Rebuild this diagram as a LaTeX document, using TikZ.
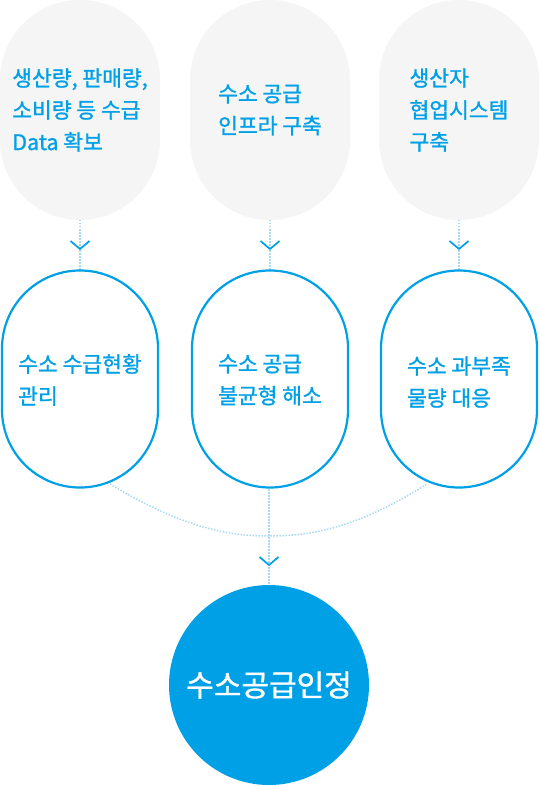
\documentclass[tikz,border=0pt]{standalone}
\usepackage{fontspec}
\setmainfont{Noto Sans CJK KR}
\newfontfamily\kr[FakeBold=1.2]{Noto Sans CJK KR}
\definecolor{mainblue}{HTML}{00A0E6}
\definecolor{pillgray}{HTML}{F5F5F5}
\definecolor{dotblue}{HTML}{A9DAF5}
\tikzset{
  graypill/.style={rectangle, fill=pillgray, minimum width=160pt, minimum height=220pt, rounded corners=79.9pt, inner sep=0pt},
  bluepill/.style={rectangle, draw=mainblue, line width=2.2pt, fill=white, minimum width=156pt, minimum height=217pt, rounded corners=77.9pt, inner sep=0pt},
  pilltext/.style={text=mainblue, align=left, font=\kr\fontsize{21.5pt}{32pt}\selectfont},
  dotline/.style={dotblue, line width=1.5pt, dash pattern=on 1.5pt off 1.5pt},
  chev/.style={mainblue, line width=1.7pt},
}
\begin{document}
\begin{tikzpicture}[x=1pt,y=-1pt]
\useasboundingbox (0,0) rectangle (539,786);
% connectors first (behind)
\coordinate (d1t) at (80,220); \coordinate (d1b) at (80,270);
\coordinate (d2t) at (270,220); \coordinate (d2b) at (270,270);
\coordinate (d3t) at (459,220); \coordinate (d3b) at (459,270);
\draw[dotline] (d1t) -- (d1b);
\draw[dotline] (d2t) -- (d2b);
\draw[dotline] (d3t) -- (d3b);
\coordinate (al) at (110,484);
\coordinate (ar) at (427,484);
\coordinate (am) at (269,536);
\draw[dotline] (al) .. controls (180,526) and (225,536) .. (am) .. controls (315,536) and (360,526) .. (ar);
\coordinate (vt) at (269,489); \coordinate (vb) at (269,586);
\draw[dotline] (vt) -- (vb);
% top gray pills
\node[graypill] (g1) at (80,110) {};
\node[graypill] (g2) at (270,110) {};
\node[graypill] (g3) at (459,110) {};
\node[pilltext] (t1) at (80,110) {생산량, 판매량,\\소비량 등 수급\\Data 확보};
\node[pilltext] (t2) at (270,110) {수소 공급\\인프라 구축};
\node[pilltext] (t3) at (459,110) {생산자\\협업시스템\\구축};
% chevrons
\foreach \cx/\cy [count=\i] in {80/241, 270/241, 459/241, 269/557}{
  \draw[chev] (\cx-9.5,\cy) -- (\cx,\cy+8) -- (\cx+9.5,\cy);
}
% blue pills
\node[bluepill] (b1) at (80,379) {};
\node[bluepill] (b2) at (270,379) {};
\node[bluepill] (b3) at (459,379) {};
\node[pilltext] (u1) at (80,380) {수소 수급현황\\관리};
\node[pilltext] (u2) at (270,380) {수소 공급\\불균형 해소};
\node[pilltext] (u3) at (459,382) {수소 과부족\\물량 대응};
% bottom circle
\node[circle, fill=mainblue, minimum size=200pt, inner sep=0pt, text=white, font=\kr\fontsize{30pt}{34pt}\selectfont] (c) at (269,685) {수소공급인정};
\end{tikzpicture}
\end{document}
